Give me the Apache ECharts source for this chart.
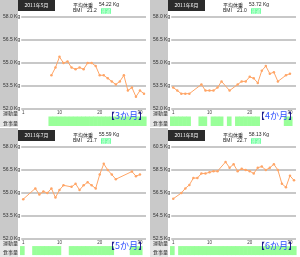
<!DOCTYPE html>
<html>
<head>
<meta charset="utf-8">
<script src="https://cdn.jsdelivr.net/npm/echarts@6/dist/echarts.min.js"></script>
<style>
html, body { margin: 0; padding: 0; background: #fff; }
.p { position: absolute; width: 150px; height: 128px; }
</style>
</head>
<body>
<div class="p" id="p0" style="left:0;top:0"></div>
<div class="p" id="p1" style="left:150px;top:0"></div>
<div class="p" id="p2" style="left:0;top:128px;height:129px"></div>
<div class="p" id="p3" style="left:150px;top:128px;height:129px"></div>
<script>
// 2011年5月
var mayDays = [8, 9, 10, 11, 12, 13, 14, 15, 16, 17, 18, 19, 20, 21, 22, 23, 24, 25, 26, 27, 28, 29, 30, 31];
var mayWeight = [54.2, 54.7, 55.4, 55.0, 55.1, 54.7, 54.6, 54.7, 54.6, 55.0, 55.0, 54.8, 54.2, 54.2, 54.0, 53.8, 53.6, 53.8, 54.2, 53.2, 53.4, 52.8, 53.2, 53.0];
var mayActive = [8, 9, 10, 11, 12, 13, 14, 15, 16, 17, 18, 19, 20, 21, 22, 23, 24, 25, 26, 27, 28, 29, 30, 31];

// 2011年6月
var junDays = [1, 2, 3, 4, 5, 8, 9, 10, 11, 12, 13, 15, 17, 18, 19, 20, 21, 22, 23, 24, 25, 26, 27, 29, 30];
var junWeight = [53.4, 53.2, 53.0, 53.0, 53.0, 53.6, 53.2, 53.2, 53.2, 53.4, 53.8, 53.2, 53.6, 53.8, 53.8, 54.1, 54.0, 53.7, 54.5, 54.8, 54.3, 54.4, 53.8, 54.2, 54.3];
var junActive = [1, 2, 3, 4, 5, 8, 9, 11, 12, 13, 15, 17, 18, 19, 20, 21, 22, 29, 30];

// 2011年7月
var julDays = [1, 4, 5, 6, 7, 8, 9, 10, 11, 13, 14, 15, 16, 17, 18, 19, 20, 21, 22, 23, 24, 28, 29, 30];
var julWeight = [54.6, 55.3, 54.9, 55.1, 55.0, 55.3, 54.7, 55.2, 55.5, 55.4, 55.6, 55.2, 55.5, 55.7, 55.5, 55.3, 56.2, 56.9, 56.5, 56.2, 55.9, 56.4, 56.1, 56.2];
var julActive = [1, 4, 5, 6, 7, 8, 9, 10, 13, 14, 15, 16, 17, 18, 19, 20, 21, 22, 23, 28, 29, 30];

// 2011年8月
var augDays = [1, 3, 4, 5, 6, 7, 8, 9, 10, 11, 12, 14, 15, 16, 17, 18, 19, 20, 21, 22, 23, 24, 25, 26, 27, 28, 29, 30, 31];
var augWeight = [56.0, 56.5, 56.9, 57.2, 57.8, 57.8, 58.2, 58.2, 58.3, 58.4, 58.4, 59.2, 58.7, 59.0, 58.4, 58.6, 58.5, 58.4, 58.2, 58.7, 58.8, 58.5, 58.7, 59.0, 58.5, 57.3, 57.0, 58.0, 57.6];
var augActive = [1, 3, 4, 5, 6, 7, 8, 9, 10, 11, 12, 13, 14, 15, 16, 17, 18, 19, 20, 21, 22, 23, 24, 25, 26, 27, 28, 29, 30, 31];

// 目盛り
var kgTicks1 = [52.0, 53.5, 55.0, 56.5, 58.0];
var kgTicks2 = [52.5, 54.5, 56.5, 58.5, 60.5];
var dayTicks = [1, 10, 20, 30];
var rowNames = ['食事量', '運動量'];

var titles = ['2011年5月', '2011年6月', '2011年7月', '2011年8月'];
var averages = ['54.22', '53.72', '55.59', '58.13'];
var bmis = ['21.2', '21.0', '21.7', '22.7'];
var spans = ['3か月', '4か月', '5か月', '6か月'];

var allDays = [mayDays, junDays, julDays, augDays];
var allWeight = [mayWeight, junWeight, julWeight, augWeight];
var allActive = [mayActive, junActive, julActive, augActive];
var allTicks = [kgTicks1, kgTicks1, kgTicks1, kgTicks2];

var FONT = '"Noto Sans CJK JP", "DejaVu Sans", sans-serif';

function buildPanel(i) {
	var dy = i < 2 ? 0 : 2;
	var ticks = allTicks[i];
	var days = allDays[i], weight = allWeight[i];

	var chart = echarts.init(document.getElementById('p' + i));
	chart.setOption({
		animation: false,
		grid: [
			{ left: 19, top: dy + 17, width: 127, height: 92 },
			{ left: 19, top: dy + 108, width: 127, height: 20 }
		],
		xAxis: [{
			type: 'value', gridIndex: 0, min: 0.5, max: 31.5,
			axisLine: { show: false }, axisTick: { show: false }, splitLine: { show: false },
			axisLabel: { customValues: dayTicks, fontSize: 4.5, color: '#444', margin: 1.5 }
		}, {
			type: 'value', gridIndex: 1, min: 0.5, max: 31.5, show: false
		}],
		yAxis: [{
			type: 'value', gridIndex: 0,
			min: ticks[0], max: ticks[ticks.length - 1], interval: ticks[1] - ticks[0],
			axisLine: { show: false }, axisTick: { show: false },
			splitLine: { show: true, lineStyle: { color: '#c8c8c8', width: 2 } },
			axisLabel: {
				fontSize: 5, color: '#333', margin: 1,
				formatter: function (v) { return v.toFixed(1) + ' Kg'; }
			}
		}, {
			type: 'category', gridIndex: 1, data: rowNames,
			axisLine: { show: false }, axisTick: { show: false }, splitLine: { show: false },
			axisLabel: { fontSize: 5, color: '#333', margin: 2, fontFamily: FONT }
		}],
		series: [{
			type: 'line',
			data: days.map(function (d, k) { return [d, weight[k]]; }),
			symbol: 'circle', symbolSize: 2.5,
			lineStyle: { color: '#ffa566', width: 1 },
			itemStyle: { color: '#ffa566' }
		}, {
			type: 'custom', xAxisIndex: 1, yAxisIndex: 1,
			data: allActive[i].map(function (d) { return [d, 0]; }),
			encode: { x: 0, y: 1 },
			renderItem: function (params, api) {
				var d = api.value(0);
				var p0 = api.coord([d - 0.5, 1]);
				var p1 = api.coord([d + 0.5, 0]);
				var band = api.size([0, 1])[1];
				return {
					type: 'rect',
					shape: { x: p0[0], y: p0[1] + band * 0.35, width: p1[0] - p0[0] + 0.6, height: p1[1] - p0[1] - band * 0.05 },
					style: { fill: '#99ff99' }
				};
			}
		}],
		graphic: [
			{ type: 'rect', left: 0, top: 0, z: -10, shape: { width: 18, height: dy + 110 }, style: { fill: '#c9c9c9' } },
			{ type: 'rect', left: 0, top: dy + 110, z: -10, shape: { width: 18, height: 17 }, style: { fill: '#e6e6e6' } },
			{ type: 'rect', left: 18, top: dy, z: 10, shape: { width: 37, height: 11 }, style: { fill: '#2b2b2b' } },
			{ type: 'text', x: 36.5, y: dy + 5.5, z: 11,
				style: { text: titles[i], fill: '#fff', fontSize: 5, fontFamily: FONT, align: 'center', verticalAlign: 'middle' } },
			{ type: 'text', x: 73, y: dy + 5, z: 11,
				style: { text: '平均体重', fill: '#222', fontSize: 5, fontFamily: FONT, verticalAlign: 'middle' } },
			{ type: 'text', x: 99, y: dy + 5, z: 11,
				style: { text: averages[i] + ' Kg', fill: '#222', fontSize: 5, verticalAlign: 'middle' } },
			{ type: 'text', x: 73, y: dy + 11, z: 11,
				style: { text: 'BMI', fill: '#222', fontSize: 5, verticalAlign: 'middle' } },
			{ type: 'text', x: 87, y: dy + 11, z: 11,
				style: { text: bmis[i], fill: '#222', fontSize: 5, verticalAlign: 'middle' } },
			{ type: 'rect', left: 101, top: dy + 8.3, z: 10, shape: { width: 10, height: 5.5 }, style: { fill: '#66ff99' } },
			{ type: 'text', x: 106, y: dy + 11, z: 11,
				style: { text: '普通', fill: '#e8fff0', fontSize: 4.5, fontFamily: FONT, align: 'center', verticalAlign: 'middle' } },
			{ type: 'text', x: 147, y: dy + 115.5, z: 12,
				style: {
					text: '{b|【}{n|' + spans[i] + '}{b|】}', align: 'right', verticalAlign: 'middle',
					fontSize: 9, fontFamily: FONT,
					rich: { b: { fill: '#1c1c8c' }, n: { fill: '#2f4fff' } }
				} }
		]
	});
}

for (var i = 0; i < 4; i++) {
	buildPanel(i);
}
</script>
</body>
</html>
